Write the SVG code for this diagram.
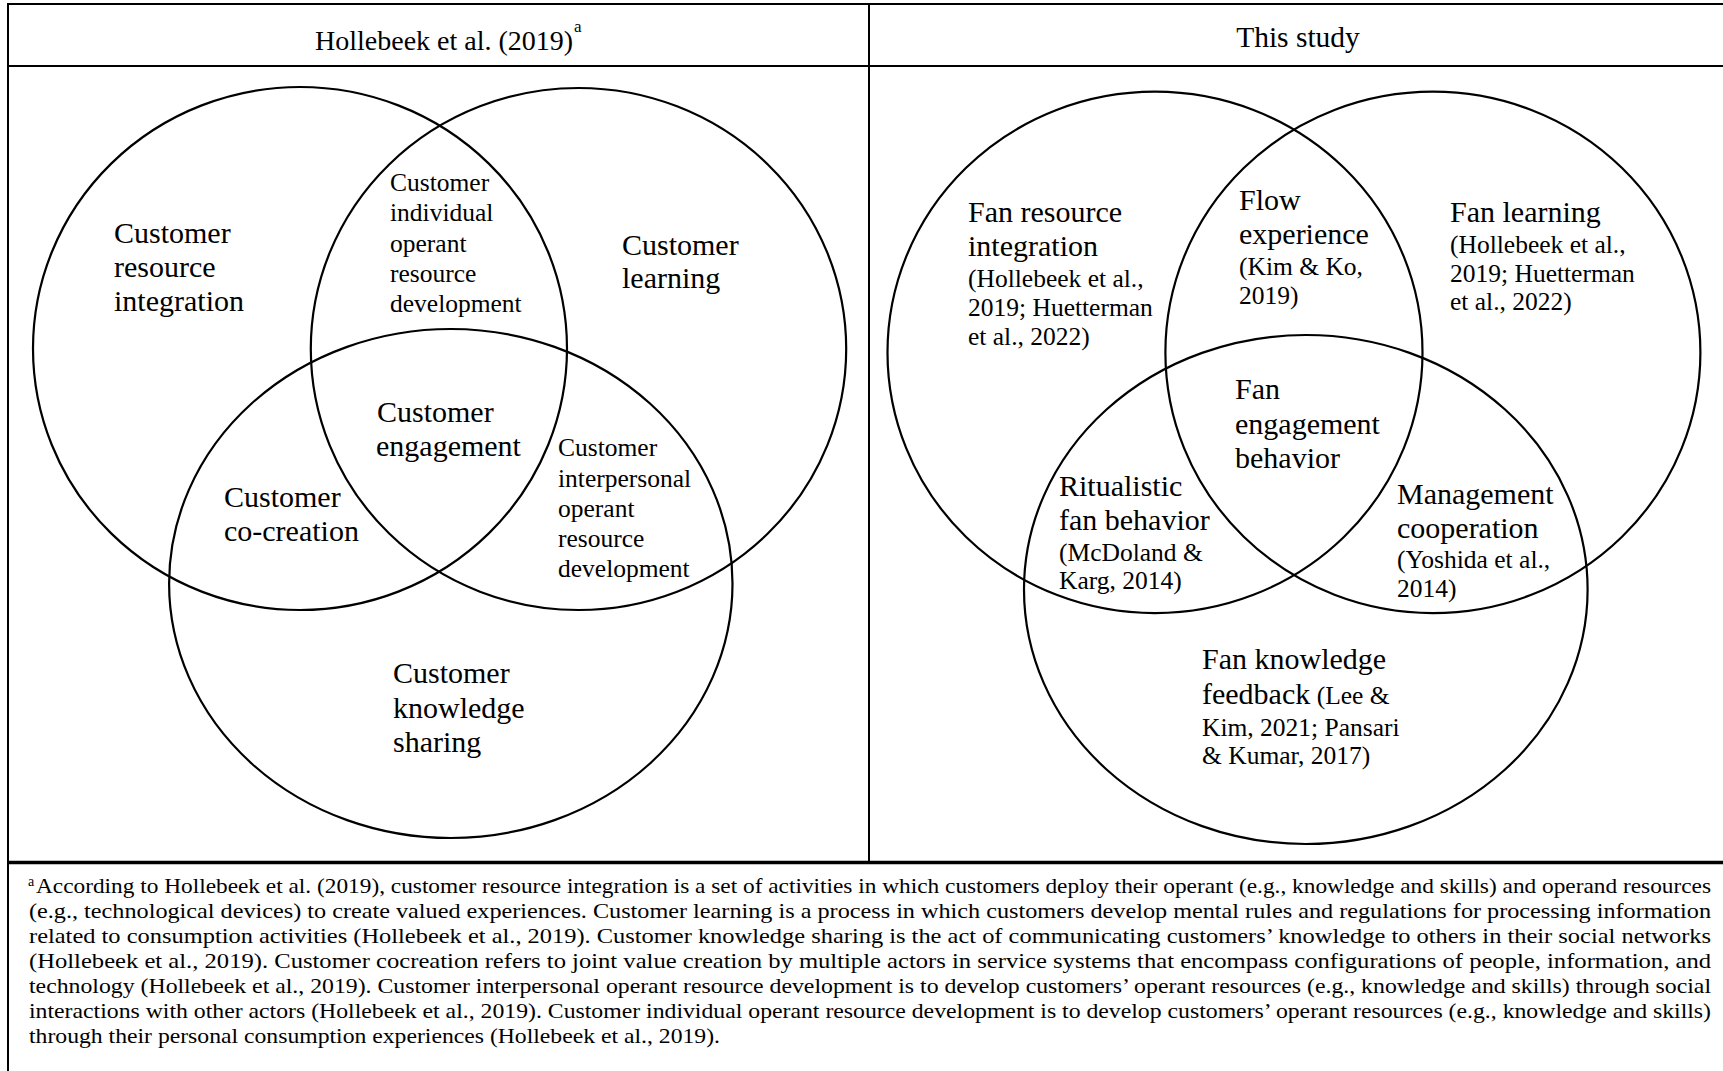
<svg xmlns="http://www.w3.org/2000/svg" width="1723" height="1071" viewBox="0 0 1723 1071">
<style>
.t{font-family:"Liberation Serif","Times New Roman",serif;fill:#000}
.L{font-size:30px}
.M{font-size:25.5px}
.F{font-size:21.5px}
.rule{stroke:#000;stroke-width:2;fill:none}
.ell{stroke:#000;stroke-width:2.2;fill:none}
</style>
<rect width="1723" height="1071" fill="#fff"/>
<g id="table">
<line class="rule" x1="8" y1="4" x2="1723" y2="4"/>
<line class="rule" x1="8" y1="3" x2="8" y2="1071"/>
<line class="rule" x1="8" y1="66" x2="1723" y2="66"/>
<line class="rule" x1="869" y1="4" x2="869" y2="862"/>
<line stroke="#000" stroke-width="3.5" x1="8" y1="862.5" x2="1723" y2="862.5"/>
</g>
<g id="header-left"><text class="t" style="font-size:28px" x="315" y="50">Hollebeek et al. (2019)</text><text class="t" style="font-size:17px" x="574" y="32">a</text></g>
<g id="header-right"><text class="t" style="font-size:29.5px" x="1298" y="47" text-anchor="middle">This study</text></g>
<g id="connectors">
<ellipse class="ell" cx="300" cy="348.5" rx="267" ry="261.5"/>
<ellipse class="ell" cx="578.5" cy="349" rx="267.7" ry="261"/>
<ellipse class="ell" cx="450.8" cy="583.5" rx="281.7" ry="254.5"/>
<ellipse class="ell" cx="1155" cy="352.4" rx="267.5" ry="260.7"/>
<ellipse class="ell" cx="1432.9" cy="352.4" rx="267.5" ry="260.7"/>
<ellipse class="ell" cx="1305.8" cy="589.5" rx="281.8" ry="254.5"/>
</g>
<g id="n-resource-integration"><text class="t L"><tspan x="114" y="243">Customer</tspan><tspan x="114" y="277">resource</tspan><tspan x="114" y="311">integration</tspan></text></g>
<g id="n-individual"><text class="t M"><tspan x="390" y="191">Customer</tspan><tspan x="390" y="221">individual</tspan><tspan x="390" y="252">operant</tspan><tspan x="390" y="282">resource</tspan><tspan x="390" y="312">development</tspan></text></g>
<g id="n-learning"><text class="t L"><tspan x="622" y="255">Customer</tspan><tspan x="622" y="288">learning</tspan></text></g>
<g id="n-engagement"><text class="t L"><tspan x="377" y="422">Customer</tspan><tspan x="376" y="456">engagement</tspan></text></g>
<g id="n-interpersonal"><text class="t M"><tspan x="558" y="456">Customer</tspan><tspan x="558" y="487">interpersonal</tspan><tspan x="558" y="517">operant</tspan><tspan x="558" y="547">resource</tspan><tspan x="558" y="577">development</tspan></text></g>
<g id="n-cocreation"><text class="t L"><tspan x="224" y="507">Customer</tspan><tspan x="224" y="541">co-creation</tspan></text></g>
<g id="n-knowledge-sharing"><text class="t L"><tspan x="393" y="683">Customer</tspan><tspan x="393" y="718">knowledge</tspan><tspan x="393" y="752">sharing</tspan></text></g>
<g id="n-fan-resource"><text class="t L"><tspan x="968" y="222">Fan resource</tspan><tspan x="968" y="256">integration</tspan></text><text class="t M"><tspan x="968" y="287">(Hollebeek et al.,</tspan><tspan x="968" y="316">2019; Huetterman</tspan><tspan x="968" y="345">et al., 2022)</tspan></text></g>
<g id="n-flow"><text class="t L"><tspan x="1239" y="210">Flow</tspan><tspan x="1239" y="244">experience</tspan></text><text class="t M"><tspan x="1239" y="275">(Kim &amp; Ko,</tspan><tspan x="1239" y="304">2019)</tspan></text></g>
<g id="n-fan-learning"><text class="t L"><tspan x="1450" y="222">Fan learning</tspan></text><text class="t M"><tspan x="1450" y="253">(Hollebeek et al.,</tspan><tspan x="1450" y="282">2019; Huetterman</tspan><tspan x="1450" y="310">et al., 2022)</tspan></text></g>
<g id="n-fan-engagement"><text class="t L"><tspan x="1235" y="399">Fan</tspan><tspan x="1235" y="434">engagement</tspan><tspan x="1235" y="468">behavior</tspan></text></g>
<g id="n-ritualistic"><text class="t L"><tspan x="1059" y="496">Ritualistic</tspan><tspan x="1059" y="530">fan behavior</tspan></text><text class="t M"><tspan x="1059" y="561">(McDoland &amp;</tspan><tspan x="1059" y="589">Karg, 2014)</tspan></text></g>
<g id="n-management"><text class="t L"><tspan x="1397" y="504">Management</tspan><tspan x="1397" y="538">cooperation</tspan></text><text class="t M"><tspan x="1397" y="568">(Yoshida et al.,</tspan><tspan x="1397" y="597">2014)</tspan></text></g>
<g id="n-knowledge-feedback"><text class="t L"><tspan x="1202" y="669">Fan knowledge</tspan><tspan x="1202" y="704">feedback</tspan><tspan class="M"> (Lee &amp;</tspan></text><text class="t M"><tspan x="1202" y="736">Kim, 2021; Pansari</tspan><tspan x="1202" y="764">&amp; Kumar, 2017)</tspan></text></g>
<g id="footnote">
<text class="t" style="font-size:14px" x="28" y="886">a</text>
<text class="t F" x="36" y="893" textLength="1675" lengthAdjust="spacingAndGlyphs">According to Hollebeek et al. (2019), customer resource integration is a set of activities in which customers deploy their operant (e.g., knowledge and skills) and operand resources</text>
<text class="t F" x="29" y="918" textLength="1682" lengthAdjust="spacingAndGlyphs">(e.g., technological devices) to create valued experiences. Customer learning is a process in which customers develop mental rules and regulations for processing information</text>
<text class="t F" x="29" y="943" textLength="1682" lengthAdjust="spacingAndGlyphs">related to consumption activities (Hollebeek et al., 2019). Customer knowledge sharing is the act of communicating customers’ knowledge to others in their social networks</text>
<text class="t F" x="29" y="968" textLength="1682" lengthAdjust="spacingAndGlyphs">(Hollebeek et al., 2019). Customer cocreation refers to joint value creation by multiple actors in service systems that encompass configurations of people, information, and</text>
<text class="t F" x="29" y="993" textLength="1682" lengthAdjust="spacingAndGlyphs">technology (Hollebeek et al., 2019). Customer interpersonal operant resource development is to develop customers’ operant resources (e.g., knowledge and skills) through social</text>
<text class="t F" x="29" y="1018" textLength="1682" lengthAdjust="spacingAndGlyphs">interactions with other actors (Hollebeek et al., 2019). Customer individual operant resource development is to develop customers’ operant resources (e.g., knowledge and skills)</text>
<text class="t F" x="29" y="1043" textLength="691" lengthAdjust="spacingAndGlyphs">through their personal consumption experiences (Hollebeek et al., 2019).</text>
</g>
</svg>
